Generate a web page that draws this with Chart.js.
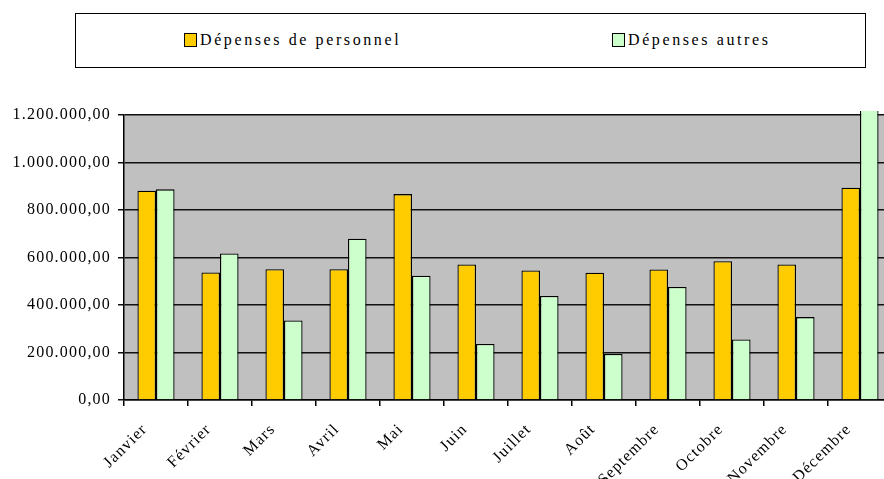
<!DOCTYPE html>
<html>
<head>
<meta charset="utf-8">
<script src="https://cdn.jsdelivr.net/npm/chart.js@4"></script>
<style>
  html,body{margin:0;padding:0;background:#fff;overflow:hidden;width:884px;height:479px;}
  #wrap{position:absolute;left:0;top:0;width:900px;height:479px;}
  #legend{position:absolute;left:75px;top:13px;width:789px;height:53px;border:1.5px solid #000;background:#fff;
    font-family:"Liberation Serif","Times New Roman",serif;font-size:16px;letter-spacing:2.6px;color:#000;}
  .item{position:absolute;top:17px;display:flex;align-items:center;white-space:nowrap;}
  .sw{width:11px;height:12px;border:1.5px solid #000;margin-right:3px;}
</style>
</head>
<body>
<div id="wrap"><canvas id="c" width="900" height="479"></canvas></div>
<div id="legend"></div>
<script>
const categories = ["Janvier","Février","Mars","Avril","Mai","Juin","Juillet","Août","Septembre","Octobre","Novembre","Décembre"];
const seriesNames = ["Dépenses de personnel","Dépenses autres"];
const personnel = [881000,537000,551000,551000,867000,571000,545000,536000,550000,584000,571000,894000];
const autres    = [887000,617000,335000,679000,523000,236000,438000,194000,476000,255000,349000,1350000];
const yTicks = [0,200000,400000,600000,800000,1000000,1200000];
const colors = ["#FFCC00","#CCFFCC"];
const legendLeft = [108,536];

function fmt(v){
  const s = Math.round(v).toString().replace(/\B(?=(\d{3})+(?!\d))/g,".");
  return s + ",00";
}

// HTML legend
const lg = document.getElementById('legend');
seriesNames.forEach((n,i)=>{
  const d = document.createElement('div');
  d.className='item'; d.style.left = legendLeft[i]+'px';
  d.innerHTML = '<div class="sw" style="background:'+colors[i]+'"></div><span>'+n+'</span>';
  lg.appendChild(d);
});

const LS = '1.2px';
const spacing = {
  id:'spacing',
  beforeUpdate(c){ c.ctx.letterSpacing=LS; },
  beforeLayout(c){ c.ctx.letterSpacing=LS; },
  beforeDraw(c){ c.ctx.letterSpacing=LS; }
};
const plotBg = {
  id:'plotBg',
  beforeDraw(c){
    const {ctx, chartArea:a} = c;
    ctx.save(); ctx.fillStyle='#C0C0C0';
    ctx.fillRect(a.left,a.top,a.right-a.left,a.bottom-a.top);
    ctx.restore();
  }
};

const serif = '"Liberation Serif","Times New Roman",serif';
new Chart(document.getElementById('c'),{
  type:'bar',
  data:{
    labels:categories,
    datasets:[
      {label:seriesNames[0],data:personnel,backgroundColor:colors[0],borderColor:'#000',borderWidth:1.3,
       categoryPercentage:0.58,barPercentage:1.0},
      {label:seriesNames[1],data:autres,backgroundColor:colors[1],borderColor:'#000',borderWidth:1.3,
       categoryPercentage:0.58,barPercentage:1.0,clip:{left:0,top:4,right:0,bottom:0}}
    ]
  },
  options:{
    responsive:false,animation:false,devicePixelRatio:1,
    layout:{padding:{top:115,right:8,left:0,bottom:0}},
    plugins:{legend:{display:false},tooltip:{enabled:false}},
    scales:{
      y:{
        min:0,max:1200000,
        afterBuildTicks(s){ s.ticks = yTicks.map(v=>({value:v})); },
        afterFit(s){ s.width = 124; },
        ticks:{callback:v=>fmt(v),color:'#000',padding:7,font:{family:serif,size:16}},
        grid:{color:'#111',lineWidth:1.5,tickLength:6,drawTicks:true},
        border:{color:'#000',width:1.5}
      },
      x:{
        afterFit(s){ s.height = 79; },
        ticks:{color:'#000',maxRotation:45,minRotation:45,padding:14,labelOffset:-11,autoSkip:false,
          font:{family:serif,size:16}},
        grid:{offset:true,drawOnChartArea:false,color:'#000',lineWidth:1.5,tickLength:6},
        border:{color:'#000',width:1.5}
      }
    }
  },
  plugins:[spacing,plotBg]
});
</script>
</body>
</html>
